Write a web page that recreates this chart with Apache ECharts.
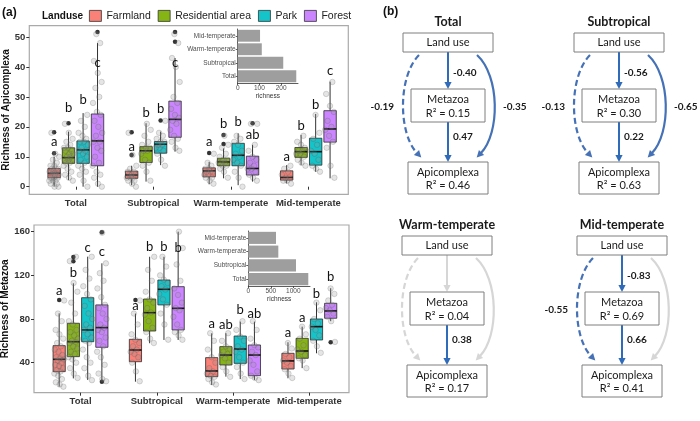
<!DOCTYPE html>
<html><head><meta charset="utf-8">
<script src="https://cdn.jsdelivr.net/npm/echarts@6/dist/echarts.min.js"></script>
<style>html,body{margin:0;padding:0;background:#fff}#c{width:700px;height:421px}</style>
</head><body><div id="c"></div>
<script>
// ---------------- DATA ----------------
const regions = ['Total', 'Subtropical', 'Warm-temperate', 'Mid-temperate'];
const landuses = ['Farmland', 'Residential area', 'Park', 'Forest'];

// Apicomplexa richness: box stats [min, Q1, median, Q3, max] per landuse, per region
const apiBox = [
  [[0, 3, 4.5, 6.1, 10], [0.5, 2.8, 3.9, 5.2, 7], [0.8, 3.3, 5.3, 6.3, 8.3], [1.1, 2.2, 3.1, 5.3, 7.2]],
  [[2.2, 7.8, 9.7, 13, 18.4], [1.7, 8.1, 12, 13.4, 21.2], [2.8, 7, 8.3, 9.5, 12.8], [7.2, 9.8, 11.7, 13.1, 17.3]],
  [[0, 7.8, 12.3, 15.3, 24.6], [7.2, 11.2, 14.2, 15.1, 18.4], [0.5, 7, 10.5, 14.5, 17.8], [5, 7.2, 11.7, 16.2, 24.3]],
  [[0, 7, 15.3, 24.3, 48], [11.7, 16.5, 22.5, 28.6, 43], [1.7, 3.9, 6.1, 10.2, 14], [2.8, 14.9, 19.3, 25.4, 35.1]]
];
const apiOut = [
  [[11.2, 18.2], [10.6, 18.2], [11.3], []],
  [[21.2], [], [14.3, 17.3], []],
  [[], [22.1], [], []],
  [[51.7], [48.4, 51.7], [21.2], []]
];
const apiPts = [
  [[0,0,1,1,2,2,2,3,3,3,3,4,4,4,4,5,5,5,5,6,6,6,7,7,8,9,10,11,18], [0,1,2,2,3,3,3,4,4,4,5,5,6,7,10.6,18], [1,2,3,3,4,4,5,5,5,6,6,7,8,11], [1,2,2,3,3,4,5,6,7]],
  [[2,3,4,5,6,7,8,8,9,9,9,10,10,11,11,12,12,13,13,14,15,16,18,21], [2,5,7,8,9,11,12,12,13,13,14,15,17,19,21], [3,5,6,7,7,8,8,8,9,9,10,11,13,14,17], [7,8,9,10,11,11,12,12,13,14,15,17]],
  [[0,2,4,5,6,7,8,9,10,11,12,12,13,14,15,15,16,17,18,20,22,24], [7,9,11,12,13,13,14,14,15,15,16,17,18,22], [0,3,5,7,8,9,10,11,12,14,15,16,17], [5,6,7,9,11,12,14,16,18,24]],
  [[0,1,3,4,5,7,8,10,12,13,15,15,17,18,20,22,24,25,28,30,33,35,38,42,48,51], [12,13,15,16,17,19,21,22,23,24,26,28,30,35,40,43,48,51], [2,3,4,5,6,6,7,8,9,10,12,14,21,21], [3,7,13,15,17,19,20,22,25,27,31,35]]
];
const apiLetters = [['a','a','a','a'], ['b','b','b','b'], ['b','b','b','b'], ['c','c','ab','c']];
const apiLetterY = [[15.1, 13.4, 15, 10], [26.2, 24.7, 20.9, 20.2], [29, 26, 21.6, 27.3], [41.4, 41.4, 17.4, 38.7]];

// Metazoa richness
const metaBox = [
  [[18, 31.8, 43.1, 55.6, 85.2], [22.6, 40.9, 51.6, 61.4, 85], [19.6, 27.2, 32.4, 44.6, 66.9], [25.7, 34.2, 41.6, 48.6, 58.7]],
  [[25.6, 45.5, 59.2, 76.1, 112.7], [57.8, 69, 85.8, 98.3, 137], [27.2, 37.9, 47, 54.7, 67], [35, 44, 50.7, 62.3, 73]],
  [[24.2, 59.2, 70, 99.5, 137.1], [60.8, 92.9, 107.2, 115.7, 137], [25, 39.4, 52.5, 64.4, 77.6], [48.6, 60.8, 73, 80, 95.3]],
  [[24.2, 54.1, 72.1, 92.9, 131], [60.8, 70, 89.8, 109.6, 160], [24.2, 28.1, 47, 56.2, 77.6], [78, 80.7, 87.4, 94.4, 108.2]]
];
const metaOut = [
  [[97.4], [97.4], [], []],
  [[133, 136.8], [], [], []],
  [[], [], [], []],
  [[22.6, 159.4], [], [], [58.7]]
];
const metaPts = [
  [[18,20,22,25,28,30,32,33,35,37,38,40,42,43,44,45,47,50,52,55,58,62,66,70,78,85,97], [23,32,40,45,48,50,52,55,58,61,66,75,85,97], [20,22,25,27,28,30,32,35,40,45,52,60,67], [26,30,34,37,40,42,45,48,53,58]],
  [[26,30,35,40,43,45,48,50,53,55,58,59,60,62,65,68,70,75,78,85,95,105,113,133,137], [58,62,68,72,78,84,86,90,95,98,105,115,125,137], [27,32,36,40,44,47,48,50,53,55,60,67], [35,42,44,47,50,52,56,62,66,73]],
  [[24,28,35,40,45,52,58,60,63,66,70,72,75,80,85,92,98,103,110,117,125,137], [61,75,85,93,98,103,107,110,113,116,120,128,137], [25,30,36,40,45,50,52,55,60,64,70,78], [49,55,60,65,70,73,76,80,88,95]],
  [[23,25,30,38,45,50,55,60,63,68,70,72,75,80,85,90,93,100,108,115,122,131,159], [61,65,68,70,75,82,88,90,95,102,108,115,130,145,160], [24,26,28,32,38,42,47,50,54,56,62,70,78], [59,78,82,85,88,90,93,97,103,108]]
];
const metaLetters = [['a','a','a','a'], ['b','b','ab','a'], ['c','b','b','b'], ['c','b','ab','b']];
const metaLetterY = [[105.7, 92, 76, 67], [121.9, 146.3, 74.5, 80.7], [145.3, 146.3, 88.3, 103.5], [141.7, 145.3, 85.2, 118.8]];

// Inset bars: total richness per region
const insetApi = [270, 210, 111, 103];
const insetMeta = [1333, 1060, 667, 615];
const insetApiTicks = [0, 100, 200];
const insetMetaTicks = [0, 500, 1000];
const apiTicks = [0, 10, 20, 30, 40, 50];
const metaTicks = [40, 80, 120, 160];

// Path models (null = non-significant path, drawn grey without label)
const pLandMeta = [-0.40, -0.56, null, -0.83];
const pMetaApi = [0.47, 0.22, 0.38, 0.66];
const pLandApiLeft = [-0.19, -0.13, null, -0.55];
const pLandApiRight = [-0.35, -0.65, null, null];
const r2Meta = [0.15, 0.30, 0.04, 0.69];
const r2Api = [0.46, 0.63, 0.17, 0.41];

// ---------------- STYLE / LAYOUT ----------------
const landColors = ['rgba(248,118,109,0.92)', 'rgba(124,174,0,0.92)', 'rgba(0,191,196,0.92)', 'rgba(199,124,255,0.92)'];
const dodge = [-0.28, -0.094, 0.094, 0.28];
const BOX_W = 0.16;
const JIT_W = 0.13;
const GG = 'Liberation Sans, Arial, sans-serif';
const CAL = 'Lato, Open Sans, sans-serif';

function jit(i) { return (((i + 1) * 0.618034 + 0.31) % 1 - 0.5) * JIT_W; }

function renderBox(params, api) {
  const x = api.value(0);
  const lo = api.coord([x, api.value(1)]);
  const q1 = api.coord([x, api.value(2)]);
  const md = api.coord([x, api.value(3)]);
  const q3 = api.coord([x, api.value(4)]);
  const hi = api.coord([x, api.value(5)]);
  const hw = api.size([BOX_W, 0])[0] / 2;
  return { type: 'group', children: [
    { type: 'line', shape: { x1: lo[0], y1: lo[1], x2: q1[0], y2: q1[1] }, style: { stroke: '#333', lineWidth: 1 } },
    { type: 'line', shape: { x1: q3[0], y1: q3[1], x2: hi[0], y2: hi[1] }, style: { stroke: '#333', lineWidth: 1 } },
    { type: 'rect', shape: { x: q3[0] - hw, y: q3[1], width: 2 * hw, height: q1[1] - q3[1] }, style: { fill: api.visual('color'), stroke: '#2a2a2a', lineWidth: 0.8 } },
    { type: 'line', shape: { x1: md[0] - hw, y1: md[1], x2: md[0] + hw, y2: md[1] }, style: { stroke: '#111', lineWidth: 1.6 } }
  ]};
}
function renderLetter(params, api) {
  const p = api.coord([api.value(0), api.value(1)]);
  return { type: 'text', x: p[0], y: p[1], style: { text: api.value(2), font: '13px ' + CAL, fill: '#111', align: 'center', verticalAlign: 'middle' } };
}

function panelSeries(gi, box, out, pts, letters, letterY) {
  const s = [];
  for (let j = 0; j < 4; j++) {
    s.push({ type: 'custom', name: landuses[j], xAxisIndex: gi, yAxisIndex: gi, renderItem: renderBox,
      itemStyle: { color: landColors[j] }, encode: { x: 0, y: [1, 2, 3, 4, 5] },
      data: regions.map((r, k) => [k + 1 + dodge[j]].concat(box[j][k])), z: 2 });
  }
  const od = [], pd = [], ld = [];
  for (let j = 0; j < 4; j++) for (let k = 0; k < 4; k++) {
    const cx = k + 1 + dodge[j];
    out[j][k].forEach(v => od.push([cx, v]));
    pts[j][k].forEach((v, i) => pd.push([cx + jit(i), v]));
    ld.push([cx, letterY[j][k], letters[j][k]]);
  }
  s.push({ type: 'scatter', xAxisIndex: gi, yAxisIndex: gi, data: od, symbolSize: 4.5, itemStyle: { color: '#000' }, z: 3, silent: true });
  s.push({ type: 'scatter', xAxisIndex: gi, yAxisIndex: gi, data: pd, symbolSize: 5.5,
    itemStyle: { color: 'rgba(150,150,150,0.3)', borderColor: 'rgba(70,70,70,0.4)', borderWidth: 0.6 }, z: 4, silent: true });
  s.push({ type: 'custom', xAxisIndex: gi, yAxisIndex: gi, renderItem: renderLetter, data: ld, z: 5, silent: true });
  return s;
}

function mainX(gi, min, max) {
  return { gridIndex: gi, type: 'value', min: min, max: max, splitLine: { show: false }, axisLine: { show: false },
    axisTick: { show: true, customValues: [1, 2, 3, 4], length: 3, lineStyle: { color: '#333' } },
    axisLabel: { customValues: [1, 2, 3, 4], formatter: v => regions[Math.round(v) - 1], fontWeight: 'bold', fontSize: 9.5, color: '#333', fontFamily: GG, margin: 4 } };
}
function mainY(gi, min, max, ticks, name, gap) {
  return { gridIndex: gi, type: 'value', min: min, max: max, splitLine: { show: false }, axisLine: { show: false },
    axisTick: { show: true, customValues: ticks, length: 3, lineStyle: { color: '#333' } },
    axisLabel: { customValues: ticks, formatter: v => String(v), fontWeight: 'bold', fontSize: 9.5, color: '#333', fontFamily: GG, margin: 4 },
    name: name, nameLocation: 'middle', nameGap: gap, nameTextStyle: { fontWeight: 'bold', fontSize: 10, color: '#111', fontFamily: GG } };
}
function insetX(gi, max, ticks) {
  return { gridIndex: gi, type: 'value', min: 0, max: max, splitLine: { show: false },
    axisLine: { show: true, lineStyle: { color: '#333', width: 0.8 } },
    axisTick: { show: true, customValues: ticks, length: 2, lineStyle: { color: '#333', width: 0.8 } },
    axisLabel: { customValues: ticks, formatter: v => String(v), fontSize: 6.5, color: '#4d4d4d', fontFamily: GG, margin: 2 },
    name: 'richness', nameLocation: 'middle', nameGap: 10, nameTextStyle: { fontSize: 6.5, color: '#333', fontFamily: GG } };
}
function insetY(gi) {
  return { gridIndex: gi, type: 'category', data: regions, splitLine: { show: false },
    axisLine: { show: true, lineStyle: { color: '#333', width: 0.8 } },
    axisTick: { show: true, alignWithLabel: true, length: 2, lineStyle: { color: '#333', width: 0.8 } },
    axisLabel: { fontSize: 6.5, color: '#4d4d4d', fontFamily: GG, margin: 2 } };
}

// ---------------- PATH DIAGRAMS (graphic) ----------------
const BLUE = '#2f6bb8', BLUE2 = '#4571b6', GREY = '#d6d6d6';
const diagCx = [448, 619, 447, 622];
const diagDy = [0, 0, 203, 203];
const graphic = [];
function txt(x, y, t, font, align, fill) {
  graphic.push({ type: 'text', x: x, y: y, silent: true, style: { text: t, font: font, fill: fill || '#1a1a1a', align: align || 'center', verticalAlign: 'middle' } });
}
function box(x, y, w, h) {
  graphic.push({ type: 'rect', shape: { x: x, y: y, width: w, height: h }, style: { fill: '#fff', stroke: '#7f7f7f', lineWidth: 1 } });
}
function head(tx, ty, dx, dy, color) {
  const L = Math.hypot(dx, dy); dx /= L; dy /= L;
  const len = 7, hw = 3.6;
  const bx = tx - dx * len, by = ty - dy * len;
  graphic.push({ type: 'polygon', shape: { points: [[tx, ty], [bx - dy * hw, by + dx * hw], [bx + dy * hw, by - dx * hw]] }, style: { fill: color } });
}
function fmt(v) { return v.toFixed(2); }
for (let k = 0; k < 4; k++) {
  const cx = diagCx[k], d = diagDy[k];
  txt(cx, 22 + d, regions[k], 'bold 12.5px ' + CAL);
  const c1 = pLandMeta[k] === null ? GREY : BLUE;
  graphic.push({ type: 'line', shape: { x1: cx, y1: 52 + d, x2: cx, y2: 83 + d }, style: { stroke: c1, lineWidth: 2 } });
  head(cx, 89 + d, 0, 1, c1);
  const c2 = pMetaApi[k] === null ? GREY : BLUE;
  graphic.push({ type: 'line', shape: { x1: cx, y1: 122 + d, x2: cx, y2: 156 + d }, style: { stroke: c2, lineWidth: 2 } });
  head(cx, 162 + d, 0, 1, c2);
  const c3 = pLandApiLeft[k] === null ? GREY : BLUE2;
  const L = { x1: cx - 29, y1: 55 + d, cpx1: cx - 50, cpy1: 76 + d, cpx2: cx - 50, cpy2: 133 + d, x2: cx - 31, y2: 153 + d };
  graphic.push({ type: 'bezierCurve', shape: L, style: { stroke: c3, lineWidth: 2.2, lineDash: [6, 3.5], fill: null } });
  head(L.x2 + 4.3, L.y2 + 4.6, L.x2 - L.cpx2, L.y2 - L.cpy2, c3);
  const c4 = pLandApiRight[k] === null ? GREY : BLUE2;
  const R = { x1: cx + 29, y1: 55 + d, cpx1: cx + 52, cpy1: 76 + d, cpx2: cx + 52, cpy2: 133 + d, x2: cx + 33, y2: 153 + d };
  graphic.push({ type: 'bezierCurve', shape: R, style: { stroke: c4, lineWidth: 2.2, fill: null } });
  head(R.x2 - 4.3, R.y2 + 4.6, R.x2 - R.cpx2, R.y2 - R.cpy2, c4);
  box(cx - 45, 33 + d, 90, 19);
  txt(cx, 42.5 + d, 'Land use', '11px ' + CAL);
  box(cx - 37, 89 + d, 74, 33);
  txt(cx, 99 + d, 'Metazoa', '11px ' + CAL);
  txt(cx, 113 + d, 'R\u00b2 = ' + fmt(r2Meta[k]), '11px ' + CAL);
  box(cx - 40, 162 + d, 80, 32);
  txt(cx, 172 + d, 'Apicomplexa', '11px ' + CAL);
  txt(cx, 185.5 + d, 'R\u00b2 = ' + fmt(r2Api[k]), '11px ' + CAL);
  const B = 'bold 10px ' + CAL;
  if (pLandMeta[k] !== null) txt(cx + 5, 72.5 + d, fmt(pLandMeta[k]), B, 'left');
  if (pMetaApi[k] !== null) txt(cx + 5, 137 + d, fmt(pMetaApi[k]), B, 'left');
  if (pLandApiLeft[k] !== null) txt(cx - 54, 107 + d, fmt(pLandApiLeft[k]), B, 'right');
  if (pLandApiRight[k] !== null) txt(cx + 55, 107 + d, fmt(pLandApiRight[k]), B, 'left');
}
txt(2, 13, '(a)', 'bold 12px ' + GG, 'left', '#111');
txt(383, 12, '(b)', 'bold 12px ' + GG, 'left', '#111');
txt(42, 16, 'Landuse', 'bold 10px ' + GG, 'left', '#111');

// ---------------- CHART ----------------
const chart = echarts.init(document.getElementById('c'), null, { renderer: 'canvas' });
const series = []
  .concat(panelSeries(0, apiBox, apiOut, apiPts, apiLetters, apiLetterY))
  .concat(panelSeries(1, metaBox, metaOut, metaPts, metaLetters, metaLetterY));
series.push({ type: 'bar', xAxisIndex: 2, yAxisIndex: 2, data: insetApi, barWidth: '88%', itemStyle: { color: '#9e9e9e' }, silent: true, z: 6 });
series.push({ type: 'bar', xAxisIndex: 3, yAxisIndex: 3, data: insetMeta, barWidth: '88%', itemStyle: { color: '#9e9e9e' }, silent: true, z: 6 });

chart.setOption({
  animation: false,
  backgroundColor: '#fff',
  textStyle: { fontFamily: GG },
  legend: { data: landuses, left: 89, top: 10, itemWidth: 12, itemHeight: 11, itemGap: 7, padding: 0,
    icon: 'rect', textStyle: { fontSize: 10.5, color: '#222', fontFamily: GG },
    itemStyle: { borderColor: '#333', borderWidth: 0.8 } },
  grid: [
    { left: 29.3, top: 25.7, width: 319, height: 168.6, show: true, borderColor: '#aaaaaa', borderWidth: 1.2, backgroundColor: 'transparent', outerBoundsMode: 'none' },
    { left: 34, top: 225, width: 315, height: 167.7, show: true, borderColor: '#aaaaaa', borderWidth: 1.2, backgroundColor: 'transparent', outerBoundsMode: 'none' },
    { left: 237.7, top: 29, width: 60.3, height: 54, outerBoundsMode: 'none' },
    { left: 248.3, top: 231, width: 61.7, height: 55, outerBoundsMode: 'none' }
  ],
  xAxis: [mainX(0, 0.40, 4.515), mainX(1, 0.39, 4.52), insetX(2, 278, insetApiTicks), insetX(3, 1371, insetMetaTicks)],
  yAxis: [mainY(0, -2.54, 53.8, apiTicks, 'Richness of Apicomplexa', 16), mainY(1, 12.5, 166.1, metaTicks, 'Richness of Metazoa', 21), insetY(2), insetY(3)],
  series: series,
  graphic: graphic
});
</script></body></html>
